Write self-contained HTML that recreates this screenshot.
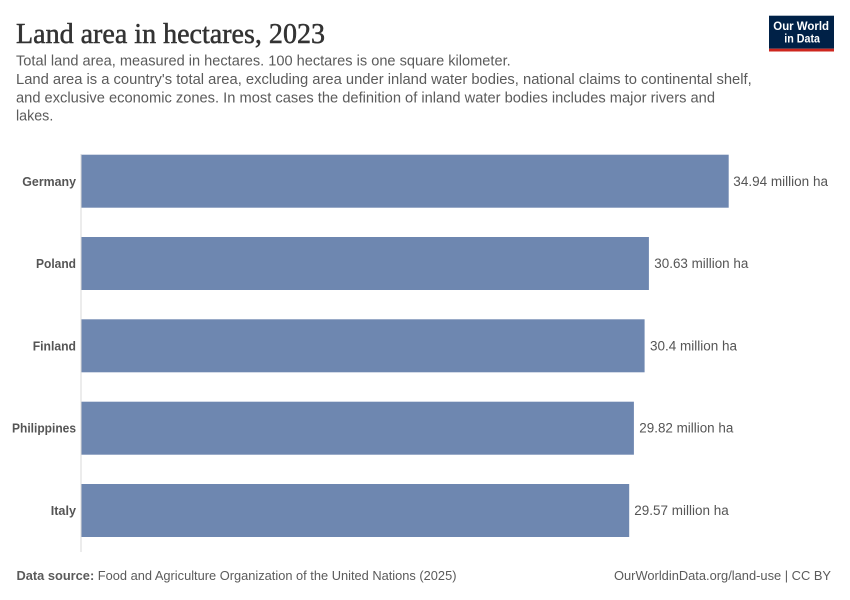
<!DOCTYPE html>
<html>
<head>
<meta charset="utf-8">
<style>
  html, body { margin:0; padding:0; background:#fff; }
  svg { display:block; }
  text { font-family: "Liberation Sans", "DejaVu Sans", sans-serif; }
  text.serif { font-family: "Liberation Serif", "DejaVu Serif", serif; }
</style>
</head>
<body>
<svg width="850" height="600" viewBox="0 0 850 600" xmlns="http://www.w3.org/2000/svg">
  <rect width="850" height="600" fill="#ffffff"/>

  <!-- Title -->
  <text class="serif" x="16" y="43" style="font-family:'Liberation Serif',serif;" font-size="29" fill="#333333" stroke="#333333" stroke-width="0.5" textLength="309" lengthAdjust="spacingAndGlyphs">Land area in hectares, 2023</text>

  <!-- Subtitle -->
  <g font-size="14.5" fill="#5b5b5b">
    <text x="16" y="65.7" textLength="494.7" lengthAdjust="spacingAndGlyphs">Total land area, measured in hectares. 100 hectares is one square kilometer.</text>
    <text x="16" y="84" textLength="735.7" lengthAdjust="spacingAndGlyphs">Land area is a country's total area, excluding area under inland water bodies, national claims to continental shelf,</text>
    <text x="16" y="102.3" textLength="699" lengthAdjust="spacingAndGlyphs">and exclusive economic zones. In most cases the definition of inland water bodies includes major rivers and</text>
    <text x="16" y="120.7" textLength="37.3" lengthAdjust="spacingAndGlyphs">lakes.</text>
  </g>

  <!-- Logo -->
  <rect x="769" y="15.7" width="65" height="33" fill="#002147"/>
  <rect x="769" y="48.7" width="65" height="2.8" fill="#ce261e"/>
  <g font-size="11.5" fill="#ffffff" font-weight="bold">
    <text x="773.3" y="30" textLength="55.7" lengthAdjust="spacingAndGlyphs">Our World</text>
    <text x="784.3" y="42.3" textLength="35.7" lengthAdjust="spacingAndGlyphs">in Data</text>
  </g>

  <!-- Axis line -->
  <line x1="81" y1="154" x2="81" y2="552" stroke="#d9d9d9" stroke-width="1"/>

  <!-- Bars -->
  <g fill="#6e87b0">
    <rect x="81.5" y="154.7" width="647.2" height="53"/>
    <rect x="81.5" y="237" width="567.4" height="53"/>
    <rect x="81.5" y="319.3" width="563.1" height="53"/>
    <rect x="81.5" y="401.7" width="552.4" height="53"/>
    <rect x="81.5" y="484" width="547.7" height="53"/>
  </g>

  <!-- Country labels -->
  <g font-size="13" font-weight="bold" fill="#555555" text-anchor="end">
    <text x="76" y="185.8" textLength="53.7" lengthAdjust="spacingAndGlyphs">Germany</text>
    <text x="76" y="268" textLength="40" lengthAdjust="spacingAndGlyphs">Poland</text>
    <text x="76" y="350.3" textLength="43.3" lengthAdjust="spacingAndGlyphs">Finland</text>
    <text x="76" y="432.7" textLength="64" lengthAdjust="spacingAndGlyphs">Philippines</text>
    <text x="76" y="515" textLength="25.3" lengthAdjust="spacingAndGlyphs">Italy</text>
  </g>

  <!-- Value labels -->
  <g font-size="13.5" fill="#555555">
    <text x="733.3" y="185.8" textLength="94.7" lengthAdjust="spacingAndGlyphs">34.94 million ha</text>
    <text x="654.3" y="268" textLength="94" lengthAdjust="spacingAndGlyphs">30.63 million ha</text>
    <text x="650" y="350.3" textLength="87" lengthAdjust="spacingAndGlyphs">30.4 million ha</text>
    <text x="639.3" y="432.7" textLength="94" lengthAdjust="spacingAndGlyphs">29.82 million ha</text>
    <text x="634.3" y="515" textLength="94.4" lengthAdjust="spacingAndGlyphs">29.57 million ha</text>
  </g>

  <!-- Footer -->
  <text x="16.5" y="580" font-size="12.5" fill="#5b5b5b" textLength="440" lengthAdjust="spacingAndGlyphs"><tspan font-weight="bold">Data source:</tspan> Food and Agriculture Organization of the United Nations (2025)</text>
  <text x="614" y="580" font-size="12.5" fill="#5b5b5b" textLength="217" lengthAdjust="spacingAndGlyphs">OurWorldinData.org/land-use | CC BY</text>
</svg>
</body>
</html>
